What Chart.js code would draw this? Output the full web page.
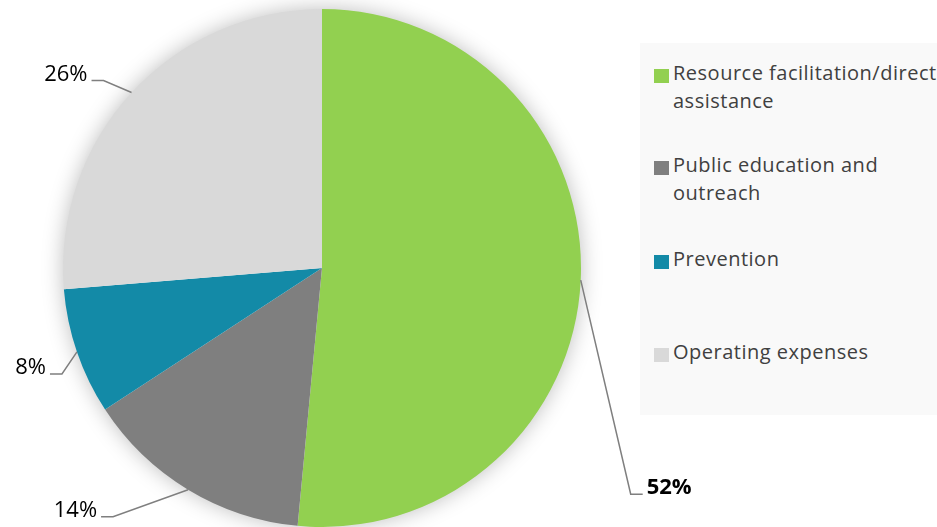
<!DOCTYPE html>
<html>
<head>
<meta charset="utf-8">
<script src="https://cdn.jsdelivr.net/npm/chart.js@4"></script>
<style>
  html, body { margin:0; padding:0; background:#ffffff; }
  #wrap { position:relative; width:937px; height:527px; overflow:hidden; }
  #chart { position:absolute; left:0; top:0; }
  #legend { position:absolute; left:640px; top:43px; width:297px; height:372px; background:#f9f9f9; overflow:hidden; }
  .item { position:absolute; left:14px; white-space:nowrap; font-family:"Open Sans", sans-serif; font-size:20px; letter-spacing:0.5px; line-height:28px; color:#404040; }
  .sw { position:absolute; left:0; width:15px; height:14px; }
  .txt { position:absolute; left:19px; top:0; }
</style>
</head>
<body>
<div id="wrap">
  <canvas id="chart" width="937" height="527"></canvas>
  <div id="legend"></div>
</div>
<script>
// ---- data ----
const categories = ["Resource facilitation/direct assistance", "Public education and outreach", "Prevention", "Operating expenses"];
const legendLines = [["Resource facilitation/direct", "assistance"], ["Public education and", "outreach"], ["Prevention"], ["Operating expenses"]];
const values = [51.5, 14.3, 7.9, 26.3];
const valueLabels = ["52%", "14%", "8%", "26%"];

// ---- styles / layout ----
const colors = ["#92d050", "#7f7f7f", "#138aa7", "#d9d9d9"];
const labelBold = [true, false, false, false];
// elbow offset from slice edge point, and direction of horizontal tail
const labelLayout = [
  { dx: 50, dy: 214, dir: 1 },
  { dx: -75, dy: 27, dir: -1 },
  { dx: -15, dy: 22, dir: -1 },
  { dx: -28, dy: -12, dir: -1 }
];
const legendTops = [16, 108, 202, 295];

// legend (HTML)
const leg = document.getElementById('legend');
legendLines.forEach((lines, i) => {
  const it = document.createElement('div');
  it.className = 'item';
  it.style.top = legendTops[i] + 'px';
  const sw = document.createElement('div');
  sw.className = 'sw';
  sw.style.background = colors[i];
  sw.style.top = '10px';
  const tx = document.createElement('div');
  tx.className = 'txt';
  tx.innerHTML = lines.join('<br>');
  it.appendChild(sw); it.appendChild(tx);
  leg.appendChild(it);
});

const shadowPlugin = {
  id: 'pieShadow',
  beforeDatasetsDraw(chart) {
    const arc = chart.getDatasetMeta(0).data[0];
    if (!arc) return;
    const ctx = chart.ctx;
    ctx.save();
    ctx.beginPath();
    ctx.arc(arc.x, arc.y, arc.outerRadius - 1, 0, Math.PI * 2);
    ctx.fillStyle = '#ffffff';
    ctx.shadowColor = 'rgba(0,0,0,0.28)';
    ctx.shadowBlur = 22;
    ctx.fill();
    ctx.restore();
  }
};

const labelPlugin = {
  id: 'leaderLabels',
  afterDatasetsDraw(chart) {
    const ctx = chart.ctx;
    const meta = chart.getDatasetMeta(0);
    meta.data.forEach((arc, i) => {
      const mid = (arc.startAngle + arc.endAngle) / 2;
      const r = arc.outerRadius;
      const sx = arc.x + Math.cos(mid) * r;
      const sy = arc.y + Math.sin(mid) * r;
      const L = labelLayout[i];
      const ex = sx + L.dx, ey = sy + L.dy;
      const tx = ex + L.dir * 12;
      ctx.save();
      ctx.strokeStyle = '#7f7f7f';
      ctx.lineWidth = 1.5;
      ctx.beginPath();
      ctx.moveTo(sx, sy);
      ctx.lineTo(ex, ey);
      ctx.lineTo(tx, ey);
      ctx.stroke();
      ctx.fillStyle = '#000000';
      ctx.font = (labelBold[i] ? 'bold ' : '') + '22px "Open Sans", sans-serif';
      ctx.textBaseline = 'middle';
      ctx.textAlign = L.dir > 0 ? 'left' : 'right';
      ctx.fillText(valueLabels[i], tx + L.dir * 4, ey - 6);
      ctx.restore();
    });
  }
};

new Chart(document.getElementById('chart'), {
  type: 'pie',
  data: {
    labels: categories,
    datasets: [{ data: values, backgroundColor: colors, borderWidth: 0 }]
  },
  options: {
    responsive: false,
    animation: false,
    layout: { padding: { left: 63, right: 356, top: 9, bottom: 0 } },
    plugins: { legend: { display: false }, tooltip: { enabled: false } }
  },
  plugins: [shadowPlugin, labelPlugin]
});
</script>
</body>
</html>
